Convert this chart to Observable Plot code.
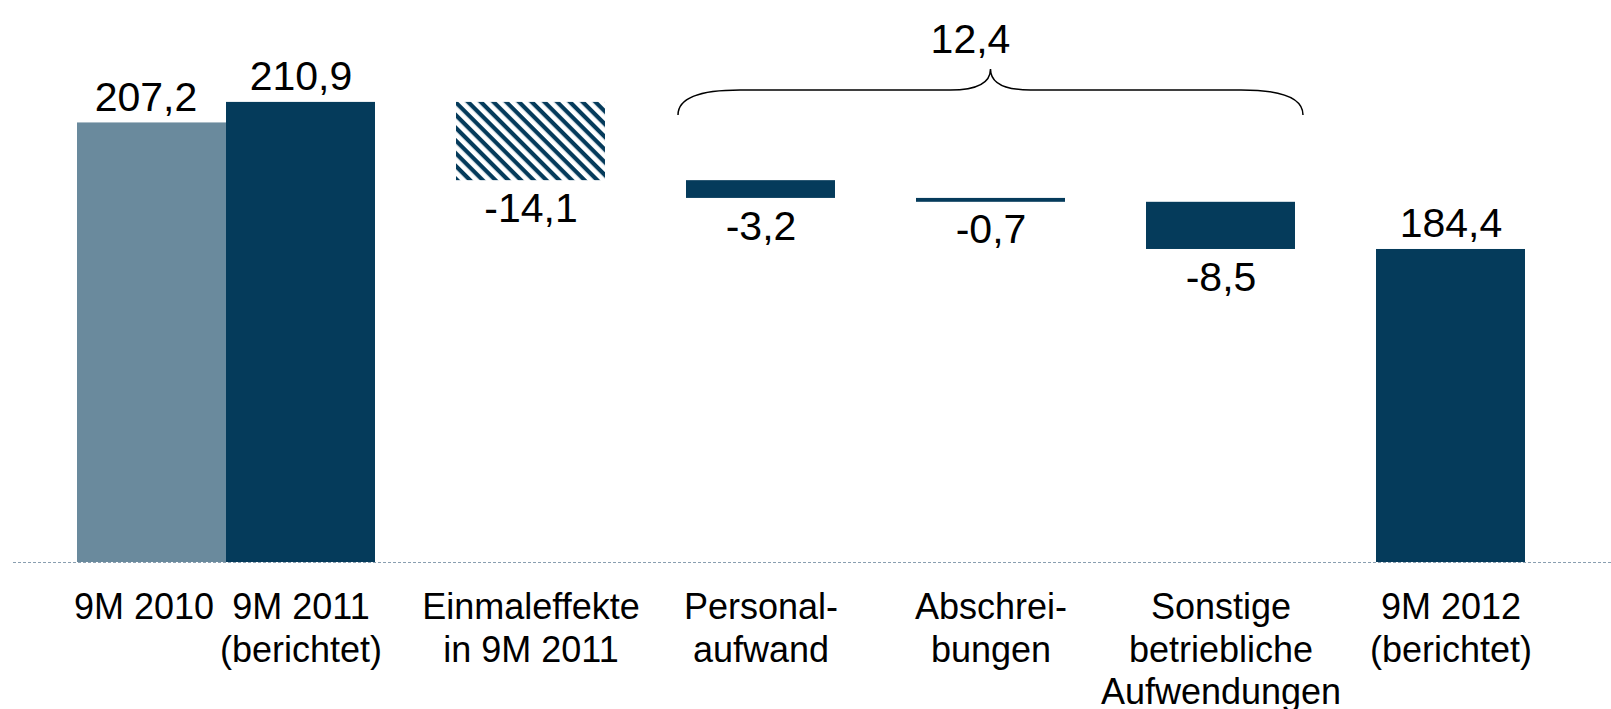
<!DOCTYPE html>
<html><head><meta charset="utf-8">
<script src="https://cdn.jsdelivr.net/npm/d3@7"></script>
<script src="https://cdn.jsdelivr.net/npm/@observablehq/plot@0.6"></script>
<style>body{margin:0;background:#fff;} svg{display:block}</style>
</head><body><div id="chart"></div>
<script>
// ---- data ----
const categories = [
  "9M 2010",
  "9M 2011\n(berichtet)",
  "Einmaleffekte\nin 9M 2011",
  "Personal-\naufwand",
  "Abschrei-\nbungen",
  "Sonstige\nbetriebliche\nAufwendungen",
  "9M 2012\n(berichtet)"
];
const values = [207.2, 210.9, -14.1, -3.2, -0.7, -8.5, 184.4];
const kinds = ["prior", "total", "oneoff", "delta", "delta", "delta", "total"];
const valueLabels = ["207,2", "210,9", "-14,1", "-3,2", "-0,7", "-8,5", "184,4"];
const braceLabel = "12,4"; // sum of Personal, Abschreibungen, Sonstige

// ---- layout / scales ----
const W = 1611, H = 709;
const DARK = "#053B5B", LIGHT = "#6A8A9D";
const FONT = "'Liberation Sans', Arial, Helvetica, sans-serif";
const yDomain = [128, 220];
const slots = categories.slice(1);
const xOpts = {type: "band", domain: slots, range: [224.5, 1526], paddingInner: 0.3536, paddingOuter: 0};
const yOpts = {type: "linear", domain: yDomain, range: [562, 51.4]};
const bw = Plot.scale({x: xOpts}).bandwidth;

let running = 0;
const rows = categories.map((c, i) => {
  const k = kinds[i], v = values[i];
  let y1, y2;
  if (k === "prior" || k === "total") { y1 = yDomain[0]; y2 = v; running = v; }
  else { y1 = running; y2 = running + v; running = y2; }
  return {cat: c, slot: k === "prior" ? slots[0] : c, kind: k, v, y1, y2, top: Math.max(y1, y2), bottom: Math.min(y1, y2), label: valueLabels[i]};
});
const prior = rows.filter(d => d.kind === "prior");
const solid = rows.filter(d => d.kind === "total" || d.kind === "delta");
const oneoff = rows.filter(d => d.kind === "oneoff");
const totals = rows.filter(d => d.kind === "total");
const negs = rows.filter(d => d.kind === "delta" || d.kind === "oneoff");
const others = rows.filter(d => d.kind !== "prior");

function defsMark() {
  const g = d3.create("svg:g");
  const p = g.append("defs").append("pattern")
    .attr("id", "hatch").attr("patternUnits", "userSpaceOnUse")
    .attr("width", 9).attr("height", 9).attr("patternTransform", "rotate(45)");
  p.append("rect").attr("width", 9).attr("height", 9).attr("fill", "#fff");
  p.append("rect").attr("width", 9).attr("height", 4.2).attr("fill", DARK);
  return g.node();
}

function braceMark(index, scales) {
  const x = scales.x, y = scales.y;
  const xa = x(slots[2]) - 8, xb = x(slots[4]) + bw + 8;
  const xm = (xa + xb) / 2;
  const yRef = y(values[1]);
  const yA = yRef - 12, yT = yRef - 33, yE = yRef + 13;
  const g = d3.create("svg:g");
  g.append("path")
    .attr("d", `M${xa},${yE} Q${xa},${yA} ${xa + 62},${yA} L${xm - 40},${yA} Q${xm},${yA} ${xm},${yT} Q${xm},${yA} ${xm + 40},${yA} L${xb - 62},${yA} Q${xb},${yA} ${xb},${yE}`)
    .attr("fill", "none").attr("stroke", "#000").attr("stroke-width", 1.5);
  g.append("text").attr("x", xm - 20).attr("y", yT - 16)
    .attr("text-anchor", "middle").attr("font-size", 41).attr("font-family", FONT)
    .attr("fill", "#000").text(braceLabel);
  return g.node();
}

const chart = Plot.plot({
  width: W, height: H,
  marginLeft: 0, marginRight: 0, marginTop: 0, marginBottom: 0,
  style: {fontFamily: FONT, background: "#fff", color: "#000", overflow: "visible"},
  x: {...xOpts, axis: null},
  y: {...yOpts, axis: null},
  marks: [
    defsMark,
    Plot.ruleY([yDomain[0]], {stroke: "#8A9FB0", strokeWidth: 1.2, strokeDasharray: "3,2", insetLeft: 13}),
    Plot.barY(prior, {x: "slot", y1: "y1", y2: "y2", fill: LIGHT, dx: -bw}),
    Plot.barY(solid, {x: "slot", y1: "y1", y2: "y2", fill: DARK}),
    Plot.barY(oneoff, {x: "slot", y1: "y1", y2: "y2", fill: "url(#hatch)"}),
    Plot.text(prior, {x: "slot", y: "top", text: "label", dx: -bw - 6, dy: -12, lineAnchor: "bottom", fontSize: 41, fill: "#000"}),
    Plot.text(totals, {x: "slot", y: "top", text: "label", dy: -12, lineAnchor: "bottom", fontSize: 41, fill: "#000"}),
    Plot.text(negs, {x: "slot", y: "bottom", text: "label", dy: 12, lineAnchor: "top", fontSize: 41, fill: "#000"}),
    Plot.text(prior, {x: "slot", y: () => yDomain[0], text: "cat", dx: -bw - 8, dy: 27, lineAnchor: "top", lineHeight: 1.17, fontSize: 36, fill: "#000"}),
    Plot.text(others, {x: "slot", y: () => yDomain[0], text: "cat", dy: 27, lineAnchor: "top", lineHeight: 1.17, fontSize: 36, fill: "#000"}),
    braceMark
  ]
});
document.getElementById("chart").appendChild(chart);
</script>
</body></html>
